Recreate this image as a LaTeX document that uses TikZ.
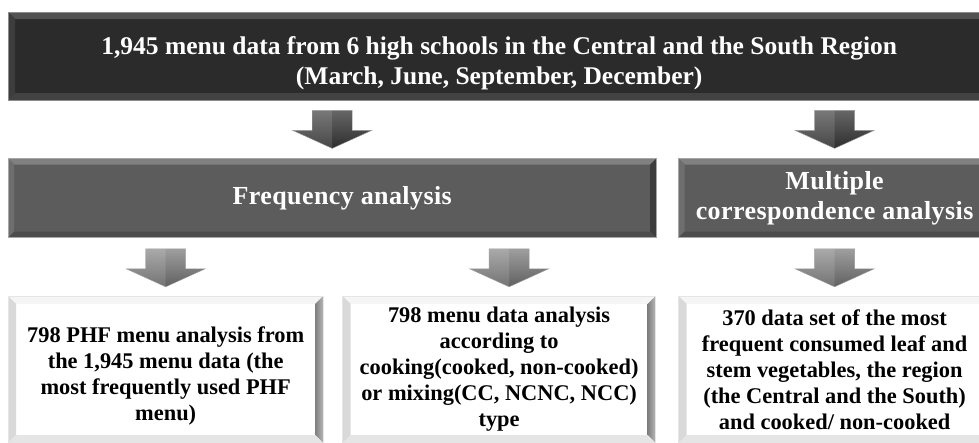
\documentclass[tikz,border=0pt]{standalone}
\usepackage{fontspec}
\setmainfont{Liberation Serif}
\usetikzlibrary{positioning}

\definecolor{nightface}{HTML}{2B2B2B}
\definecolor{slateface}{HTML}{5C5C5C}

\tikzset{
  bevel/.style n args={5}{path picture={
      \path (path picture bounding box.north west) coordinate (pnw)
            (path picture bounding box.north east) coordinate (pne)
            (path picture bounding box.south west) coordinate (psw)
            (path picture bounding box.south east) coordinate (pse);
      \fill[#2] (pnw) -- (pne) -- ([shift={(-#1,-#1)}]pne) -- ([shift={(#1,-#1)}]pnw) -- cycle;
      \fill[#3] (pnw) -- ([shift={(#1,-#1)}]pnw) -- ([shift={(#1,#1)}]psw) -- (psw) -- cycle;
      \fill[#4] (pne) -- ([shift={(-#1,-#1)}]pne) -- ([shift={(-#1,#1)}]pse) -- (pse) -- cycle;
      \fill[#5] (psw) -- ([shift={(#1,#1)}]psw) -- ([shift={(-#1,#1)}]pse) -- (pse) -- cycle;
  }},
  darkbox/.style={draw=black!45, fill=nightface, inner sep=0pt, text=white,
    bevel={7pt}{black!68}{black!76}{black!88}{black!74}},
  midbox/.style={draw=black!35, fill=slateface, inner sep=0pt, text=white,
    font=\fontsize{26}{30}\selectfont\bfseries\addfontfeature{LetterSpace=1.6},
    bevel={6pt}{black!50}{black!57}{black!76}{black!70}},
  lightbox/.style={draw=black!10, fill=white, inner sep=0pt, text=black,
    font=\fontsize{22.4}{26}\selectfont\bfseries,
    bevel={8pt}{black!4}{black!15}{{left color=black!50,right color=black!28}}{black!10}},
  pics/downblock/.style n args={2}{code={
      \path[draw=black!40, top color=#1, bottom color=#2]
        (-20pt,38pt) -- (20pt,38pt) -- (20pt,18pt) -- (39.5pt,18pt) -- (0pt,0pt)
        -- (-39.5pt,18pt) -- (-20pt,18pt) -- cycle;
      \fill[white, opacity=0.12] (-20pt,38pt) -- (-20pt,18pt) -- (-39.5pt,18pt) -- (0pt,0pt) -- (0pt,38pt) -- cycle;
  }},
}

\begin{document}
\begin{tikzpicture}
    \path[use as bounding box, clip] (0pt,0pt) rectangle (979pt,-443pt);

    \node[darkbox, minimum width=982pt, minimum height=88pt, anchor=north west] (source) at (8pt,-12pt) {\begin{minipage}{900pt}\centering\fontsize{25.5}{30}\selectfont\bfseries
\vspace*{14pt}
1,945 menu data from 6 high schools in the Central and the South Region \\
(March, June, September, December)
      \end{minipage}};

    \node[midbox, minimum width=648pt, minimum height=79pt] [below right=58pt and 0pt of source.south west] (freq) {\hspace*{20pt}Frequency analysis};
    \node[midbox, minimum width=312pt, minimum height=79pt] [right=22pt of freq] (mca) {\begin{minipage}{300pt}\centering
Multiple \\
correspondence analysis
      \end{minipage}};

    \node[lightbox, minimum width=315pt, minimum height=147pt] [below right=58pt and 0pt of freq.south west] (phf) {\begin{minipage}{300pt}\centering
\vspace*{12pt}
798 PHF menu analysis from \\
the 1,945 menu data (the \\
most frequently used PHF \\
menu)
      \end{minipage}};
    \node[lightbox, minimum width=313pt, minimum height=147pt] [right=19pt of phf] (mixing) {\begin{minipage}{300pt}\centering
798 menu data analysis \\
according to \\
cooking(cooked, non-cooked) \\
or mixing(CC, NCNC, NCC) \\
type
      \end{minipage}};
    \node[lightbox, minimum width=312pt, minimum height=147pt] [below=58pt of mca] (veg) {\begin{minipage}{300pt}\centering
370 data set of the most \\
frequent consumed leaf and \\
stem vegetables, the region \\
(the Central and the South) \\
and cooked/ non-cooked
      \end{minipage}};

    % arrows between the levels
    \pic (a1) at ([yshift=10pt]freq.north) {downblock={black!60}{black!82}};
    \pic (a2) at ([yshift=10pt]mca.north) {downblock={black!60}{black!82}};
    \pic (a3) at ([yshift=9pt]phf.north) {downblock={black!38}{black!62}};
    \pic (a4) at ([xshift=10pt,yshift=9pt]mixing.north) {downblock={black!38}{black!62}};
    \pic (a5) at ([yshift=9pt]veg.north) {downblock={black!38}{black!62}};

  \end{tikzpicture}
\end{document}
